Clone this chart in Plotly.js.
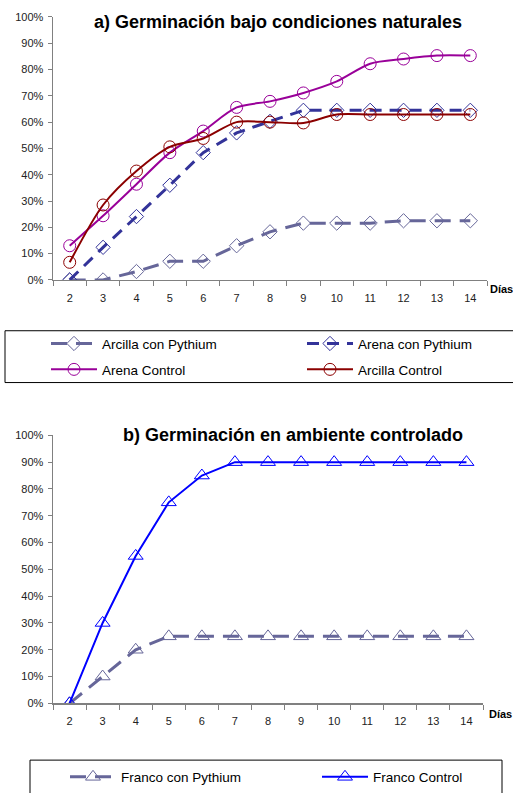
<!DOCTYPE html>
<html><head><meta charset="utf-8">
<script src="https://cdn.plot.ly/plotly-3.0.1.min.js"></script>
<style>body{margin:0;background:#fff}#g{width:513px;height:793px}</style>
</head><body><div id="g"></div>
<script>
// ---- data ----
const dias = [2,3,4,5,6,7,8,9,10,11,12,13,14];
const arcillaPythium = [0,0,3.2,7.1,7.1,13,18.3,21.6,21.6,21.6,22.5,22.5,22.5];
const arenaPythium   = [0,12.4,24.1,36,48.4,55.9,60.3,64.5,64.5,64.5,64.5,64.5,64.5];
const arenaControl   = [13,24.4,36.4,48.4,56.6,65.6,67.9,71.1,75.5,82.2,84,85.3,85.3];
const arcillaControl = [6.7,28.5,41.4,50.6,53.8,60,60,59.7,62.9,62.9,62.9,62.9,62.9];
const francoPythium  = [0,10,20,25,25,25,25,25,25,25,25,25,25];
const francoControl  = [0,30,55,75,85,90,90,90,90,90,90,90,90];
const yTicks = [0,10,20,30,40,50,60,70,80,90,100];
const yTickText = ["0%","10%","20%","30%","40%","50%","60%","70%","80%","90%","100%"];
const titleA = "a) Germinación bajo condiciones naturales";
const titleB = "b) Germinación en ambiente controlado";
const xLabel = "Días";

const W = 513, H = 793;
const PX = p => p / W, PY = p => 1 - p / H;
const FONT = "Liberation Sans, Arial, sans-serif";

function tr(name, y, color, symbol, msize, dash, width, shape, xa, ya, legend) {
  return {
    x: dias, y: y, name: name, type: 'scatter', mode: 'lines+markers',
    xaxis: xa, yaxis: ya, legend: legend, showlegend: true,
    line: {color: color, width: width, dash: dash, shape: shape, smoothing: 0.8},
    marker: {symbol: symbol, size: msize, color: color, line: {color: color, width: 1}}
  };
}

const data = [
  tr("Arcilla con Pythium", arcillaPythium, "#666699", "diamond-open", 11, "16px,9px", 3, "linear", "x", "y", "legend2"),
  tr("Arena con Pythium", arenaPythium, "#333399", "diamond-open", 11, "12px,8px", 3, "linear", "x", "y", "legend3"),
  tr("Arena Control", arenaControl, "#990099", "circle-open", 12, "solid", 2, "spline", "x", "y", "legend4"),
  tr("Arcilla Control", arcillaControl, "#8B0000", "circle-open", 12, "solid", 2, "spline", "x", "y", "legend5"),
  tr("Franco con Pythium", francoPythium, "#666699", "triangle-up-open", 13, "16px,9px", 3, "linear", "x2", "y2", "legend6"),
  tr("Franco Control", francoControl, "#0000FF", "triangle-up-open", 13, "solid", 2, "linear", "x2", "y2", "legend7")
];

function xax(domain) {
  return {
    domain: domain, range: [1.5, 14.5], tickvals: dias, ticktext: dias.map(String),
    ticks: '', showgrid: false, zeroline: false, showline: true, linecolor: '#808080', linewidth: 1.5,
    tickfont: {family: FONT, size: 11, color: '#222'}, ticklabelstandoff: 7,
    minor: {tick0: 1.5, dtick: 1, ticks: 'outside', ticklen: 5, tickcolor: '#808080', tickwidth: 1},
    fixedrange: true
  };
}
function yax(domain, anchor) {
  return {
    domain: domain, range: [0, 100], tickvals: yTicks, ticktext: yTickText,
    ticks: 'outside', ticklen: 4, tickcolor: '#808080', tickwidth: 1, ticklabelstandoff: 2,
    showgrid: false, zeroline: false, showline: true, linecolor: '#808080', linewidth: 1.5,
    tickfont: {family: FONT, size: 11, color: '#222'}, anchor: anchor, fixedrange: true
  };
}

function leg(xp, yp) {
  return {x: PX(xp), y: PY(yp), xanchor: 'left', yanchor: 'middle', orientation: 'v',
    bgcolor: 'rgba(0,0,0,0)', borderwidth: 0, itemwidth: 46,
    font: {family: FONT, size: 13.5, color: '#000'}};
}

const layout = {
  width: W, height: H, margin: {l: 0, r: 0, t: 0, b: 0},
  paper_bgcolor: '#fff', plot_bgcolor: 'rgba(0,0,0,0)',
  font: {family: FONT},
  xaxis: Object.assign(xax([PX(53), PX(487)]), {anchor: 'y'}),
  yaxis: yax([PY(281), PY(17)], 'x'),
  xaxis2: Object.assign(xax([PX(53), PX(483)]), {anchor: 'y2'}),
  yaxis2: yax([PY(706), PY(437)], 'x2'),
  legend2: leg(46, 345),
  legend3: leg(302, 345),
  legend4: leg(46, 371),
  legend5: leg(302, 371),
  legend6: leg(65, 780),
  legend7: leg(317, 780),
  shapes: [
    {type: 'rect', xref: 'paper', yref: 'paper', x0: PX(5), x1: PX(520), y0: PY(384), y1: PY(332),
     line: {color: '#000', width: 1}},
    {type: 'rect', xref: 'paper', yref: 'paper', x0: PX(30), x1: PX(502), y0: PY(800), y1: PY(763),
     line: {color: '#000', width: 1}}
  ],
  annotations: [
    {text: '<b>' + titleA + '</b>', xref: 'paper', yref: 'paper', x: PX(278), y: PY(22),
     xanchor: 'center', yanchor: 'middle', showarrow: false, font: {family: FONT, size: 18, color: '#000'}},
    {text: '<b>' + titleB + '</b>', xref: 'paper', yref: 'paper', x: PX(293), y: PY(437),
     xanchor: 'center', yanchor: 'middle', showarrow: false, font: {family: FONT, size: 18, color: '#000'}},
    {text: '<b>' + xLabel + '</b>', xref: 'paper', yref: 'paper', x: PX(488), y: PY(290),
     xanchor: 'left', yanchor: 'middle', showarrow: false, font: {family: FONT, size: 11, color: '#000'}},
    {text: '<b>' + xLabel + '</b>', xref: 'paper', yref: 'paper', x: PX(487), y: PY(717),
     xanchor: 'left', yanchor: 'middle', showarrow: false, font: {family: FONT, size: 11, color: '#000'}}
  ]
};

Plotly.newPlot('g', data, layout, {displayModeBar: false, staticPlot: true});
</script>
</body></html>
